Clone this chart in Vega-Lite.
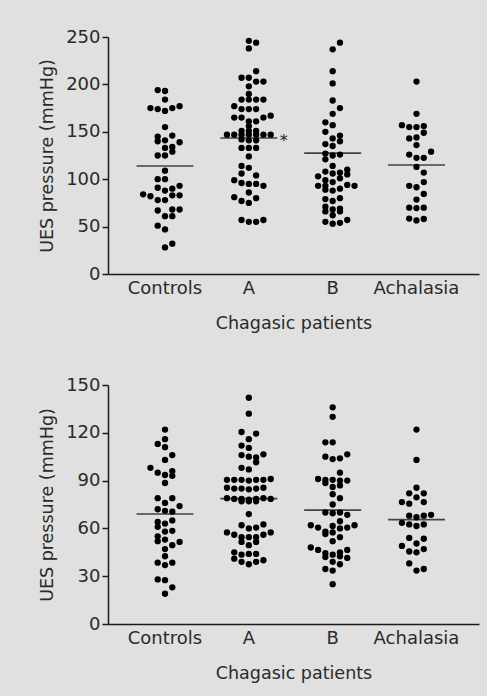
{
  "$schema": "https://vega.github.io/schema/vega-lite/v6.json",
  "background": "#e0e0e0",
  "padding": {"left": 38, "top": 28, "right": 8, "bottom": 19},
  "spacing": 44,
  "datasets": {
    "pts": [
      {"panel":"top","group":"Controls","value":194,"col":-1},{"panel":"top","group":"Controls","value":193,"col":0},{"panel":"top","group":"Controls","value":184,"col":0},{"panel":"top","group":"Controls","value":175,"col":-2},{"panel":"top","group":"Controls","value":174,"col":-1},{"panel":"top","group":"Controls","value":172,"col":0},{"panel":"top","group":"Controls","value":175,"col":1},{"panel":"top","group":"Controls","value":177,"col":2},{"panel":"top","group":"Controls","value":155,"col":0},{"panel":"top","group":"Controls","value":145,"col":-1},{"panel":"top","group":"Controls","value":146,"col":1},{"panel":"top","group":"Controls","value":140,"col":-1},{"panel":"top","group":"Controls","value":141,"col":0},{"panel":"top","group":"Controls","value":139,"col":2},{"panel":"top","group":"Controls","value":133,"col":0},{"panel":"top","group":"Controls","value":134,"col":1},{"panel":"top","group":"Controls","value":129,"col":1},{"panel":"top","group":"Controls","value":125,"col":-1},{"panel":"top","group":"Controls","value":125,"col":0},{"panel":"top","group":"Controls","value":109,"col":0},{"panel":"top","group":"Controls","value":100,"col":-1},{"panel":"top","group":"Controls","value":100,"col":0},{"panel":"top","group":"Controls","value":93,"col":2},{"panel":"top","group":"Controls","value":91,"col":-1},{"panel":"top","group":"Controls","value":90,"col":1},{"panel":"top","group":"Controls","value":88,"col":0},{"panel":"top","group":"Controls","value":84,"col":-3},{"panel":"top","group":"Controls","value":82,"col":-2},{"panel":"top","group":"Controls","value":83,"col":1},{"panel":"top","group":"Controls","value":83,"col":2},{"panel":"top","group":"Controls","value":78,"col":-1},{"panel":"top","group":"Controls","value":78,"col":0},{"panel":"top","group":"Controls","value":67,"col":-1},{"panel":"top","group":"Controls","value":68,"col":1},{"panel":"top","group":"Controls","value":68,"col":2},{"panel":"top","group":"Controls","value":61,"col":0},{"panel":"top","group":"Controls","value":61,"col":1},{"panel":"top","group":"Controls","value":51,"col":-1},{"panel":"top","group":"Controls","value":47,"col":0},{"panel":"top","group":"Controls","value":32,"col":1},{"panel":"top","group":"Controls","value":28,"col":0},
      {"panel":"top","group":"A","value":246,"col":0},{"panel":"top","group":"A","value":244,"col":1},{"panel":"top","group":"A","value":238,"col":0},{"panel":"top","group":"A","value":214,"col":1},{"panel":"top","group":"A","value":207,"col":-1},{"panel":"top","group":"A","value":207,"col":0},{"panel":"top","group":"A","value":203,"col":1},{"panel":"top","group":"A","value":203,"col":2},{"panel":"top","group":"A","value":198,"col":0},{"panel":"top","group":"A","value":190,"col":0},{"panel":"top","group":"A","value":184,"col":-1},{"panel":"top","group":"A","value":184,"col":0},{"panel":"top","group":"A","value":184,"col":1},{"panel":"top","group":"A","value":184,"col":2},{"panel":"top","group":"A","value":177,"col":-2},{"panel":"top","group":"A","value":174,"col":-1},{"panel":"top","group":"A","value":174,"col":0},{"panel":"top","group":"A","value":174,"col":1},{"panel":"top","group":"A","value":167,"col":3},{"panel":"top","group":"A","value":165,"col":-2},{"panel":"top","group":"A","value":165,"col":-1},{"panel":"top","group":"A","value":165,"col":2},{"panel":"top","group":"A","value":161,"col":0},{"panel":"top","group":"A","value":161,"col":1},{"panel":"top","group":"A","value":156,"col":0},{"panel":"top","group":"A","value":151,"col":-1},{"panel":"top","group":"A","value":151,"col":0},{"panel":"top","group":"A","value":151,"col":1},{"panel":"top","group":"A","value":147,"col":-3},{"panel":"top","group":"A","value":147,"col":-2},{"panel":"top","group":"A","value":147,"col":-1},{"panel":"top","group":"A","value":147,"col":0},{"panel":"top","group":"A","value":147,"col":1},{"panel":"top","group":"A","value":147,"col":2},{"panel":"top","group":"A","value":147,"col":3},{"panel":"top","group":"A","value":142,"col":-1},{"panel":"top","group":"A","value":141,"col":0},{"panel":"top","group":"A","value":141,"col":1},{"panel":"top","group":"A","value":133,"col":-1},{"panel":"top","group":"A","value":133,"col":0},{"panel":"top","group":"A","value":133,"col":1},{"panel":"top","group":"A","value":124,"col":0},{"panel":"top","group":"A","value":114,"col":-1},{"panel":"top","group":"A","value":112,"col":0},{"panel":"top","group":"A","value":106,"col":-1},{"panel":"top","group":"A","value":104,"col":1},{"panel":"top","group":"A","value":99,"col":-2},{"panel":"top","group":"A","value":96,"col":-1},{"panel":"top","group":"A","value":95,"col":0},{"panel":"top","group":"A","value":95,"col":1},{"panel":"top","group":"A","value":93,"col":2},{"panel":"top","group":"A","value":86,"col":0},{"panel":"top","group":"A","value":81,"col":-2},{"panel":"top","group":"A","value":80,"col":1},{"panel":"top","group":"A","value":77,"col":-1},{"panel":"top","group":"A","value":75,"col":0},{"panel":"top","group":"A","value":57,"col":-1},{"panel":"top","group":"A","value":55,"col":0},{"panel":"top","group":"A","value":55,"col":1},{"panel":"top","group":"A","value":57,"col":2},
      {"panel":"top","group":"B","value":244,"col":1},{"panel":"top","group":"B","value":237,"col":0},{"panel":"top","group":"B","value":214,"col":0},{"panel":"top","group":"B","value":201,"col":0},{"panel":"top","group":"B","value":183,"col":0},{"panel":"top","group":"B","value":175,"col":1},{"panel":"top","group":"B","value":169,"col":0},{"panel":"top","group":"B","value":160,"col":-1},{"panel":"top","group":"B","value":157,"col":0},{"panel":"top","group":"B","value":150,"col":-1},{"panel":"top","group":"B","value":146,"col":1},{"panel":"top","group":"B","value":143,"col":0},{"panel":"top","group":"B","value":140,"col":1},{"panel":"top","group":"B","value":137,"col":-1},{"panel":"top","group":"B","value":135,"col":0},{"panel":"top","group":"B","value":127,"col":-1},{"panel":"top","group":"B","value":125,"col":0},{"panel":"top","group":"B","value":126,"col":1},{"panel":"top","group":"B","value":121,"col":-1},{"panel":"top","group":"B","value":114,"col":0},{"panel":"top","group":"B","value":108,"col":-1},{"panel":"top","group":"B","value":106,"col":0},{"panel":"top","group":"B","value":110,"col":2},{"panel":"top","group":"B","value":107,"col":1},{"panel":"top","group":"B","value":105,"col":2},{"panel":"top","group":"B","value":103,"col":-2},{"panel":"top","group":"B","value":99,"col":-1},{"panel":"top","group":"B","value":97,"col":0},{"panel":"top","group":"B","value":101,"col":1},{"panel":"top","group":"B","value":93,"col":-2},{"panel":"top","group":"B","value":93,"col":-1},{"panel":"top","group":"B","value":94,"col":2},{"panel":"top","group":"B","value":93,"col":3},{"panel":"top","group":"B","value":89,"col":-1},{"panel":"top","group":"B","value":88,"col":0},{"panel":"top","group":"B","value":90,"col":1},{"panel":"top","group":"B","value":79,"col":-1},{"panel":"top","group":"B","value":77,"col":0},{"panel":"top","group":"B","value":80,"col":1},{"panel":"top","group":"B","value":71,"col":-1},{"panel":"top","group":"B","value":68,"col":0},{"panel":"top","group":"B","value":69,"col":1},{"panel":"top","group":"B","value":66,"col":-1},{"panel":"top","group":"B","value":66,"col":1},{"panel":"top","group":"B","value":62,"col":0},{"panel":"top","group":"B","value":55,"col":-1},{"panel":"top","group":"B","value":53,"col":0},{"panel":"top","group":"B","value":54,"col":1},{"panel":"top","group":"B","value":57,"col":2},
      {"panel":"top","group":"Achalasia","value":203,"col":0},{"panel":"top","group":"Achalasia","value":169,"col":0},{"panel":"top","group":"Achalasia","value":157,"col":-2},{"panel":"top","group":"Achalasia","value":155,"col":-1},{"panel":"top","group":"Achalasia","value":155,"col":0},{"panel":"top","group":"Achalasia","value":156,"col":1},{"panel":"top","group":"Achalasia","value":143,"col":-1},{"panel":"top","group":"Achalasia","value":144,"col":0},{"panel":"top","group":"Achalasia","value":149,"col":1},{"panel":"top","group":"Achalasia","value":136,"col":0},{"panel":"top","group":"Achalasia","value":129,"col":2},{"panel":"top","group":"Achalasia","value":126,"col":-1},{"panel":"top","group":"Achalasia","value":122.5,"col":0},{"panel":"top","group":"Achalasia","value":122.5,"col":1},{"panel":"top","group":"Achalasia","value":113,"col":0},{"panel":"top","group":"Achalasia","value":107,"col":1},{"panel":"top","group":"Achalasia","value":93,"col":-1},{"panel":"top","group":"Achalasia","value":91.5,"col":0},{"panel":"top","group":"Achalasia","value":97,"col":1},{"panel":"top","group":"Achalasia","value":84.5,"col":1},{"panel":"top","group":"Achalasia","value":78.5,"col":0},{"panel":"top","group":"Achalasia","value":70,"col":-1},{"panel":"top","group":"Achalasia","value":69.5,"col":0},{"panel":"top","group":"Achalasia","value":70,"col":1},{"panel":"top","group":"Achalasia","value":58.5,"col":-1},{"panel":"top","group":"Achalasia","value":56.5,"col":0},{"panel":"top","group":"Achalasia","value":58,"col":1},
      {"panel":"bottom","group":"Controls","value":122,"col":0},{"panel":"bottom","group":"Controls","value":116,"col":0},{"panel":"bottom","group":"Controls","value":113,"col":-1},{"panel":"bottom","group":"Controls","value":111,"col":0},{"panel":"bottom","group":"Controls","value":106,"col":1},{"panel":"bottom","group":"Controls","value":103,"col":0},{"panel":"bottom","group":"Controls","value":98,"col":-2},{"panel":"bottom","group":"Controls","value":96,"col":1},{"panel":"bottom","group":"Controls","value":95,"col":-1},{"panel":"bottom","group":"Controls","value":93.5,"col":0},{"panel":"bottom","group":"Controls","value":93,"col":1},{"panel":"bottom","group":"Controls","value":88.5,"col":0},{"panel":"bottom","group":"Controls","value":79,"col":-1},{"panel":"bottom","group":"Controls","value":76,"col":0},{"panel":"bottom","group":"Controls","value":79,"col":1},{"panel":"bottom","group":"Controls","value":74,"col":2},{"panel":"bottom","group":"Controls","value":72,"col":-1},{"panel":"bottom","group":"Controls","value":71,"col":0},{"panel":"bottom","group":"Controls","value":70.5,"col":1},{"panel":"bottom","group":"Controls","value":64,"col":-1},{"panel":"bottom","group":"Controls","value":63,"col":0},{"panel":"bottom","group":"Controls","value":65,"col":1},{"panel":"bottom","group":"Controls","value":61,"col":-1},{"panel":"bottom","group":"Controls","value":58,"col":0},{"panel":"bottom","group":"Controls","value":58.5,"col":1},{"panel":"bottom","group":"Controls","value":55,"col":-1},{"panel":"bottom","group":"Controls","value":53,"col":0},{"panel":"bottom","group":"Controls","value":52,"col":-1},{"panel":"bottom","group":"Controls","value":51.5,"col":2},{"panel":"bottom","group":"Controls","value":49.5,"col":1},{"panel":"bottom","group":"Controls","value":47,"col":0},{"panel":"bottom","group":"Controls","value":42.5,"col":0},{"panel":"bottom","group":"Controls","value":38.5,"col":-1},{"panel":"bottom","group":"Controls","value":37,"col":0},{"panel":"bottom","group":"Controls","value":38.5,"col":1},{"panel":"bottom","group":"Controls","value":28,"col":-1},{"panel":"bottom","group":"Controls","value":27.5,"col":0},{"panel":"bottom","group":"Controls","value":23,"col":1},{"panel":"bottom","group":"Controls","value":19,"col":0},
      {"panel":"bottom","group":"A","value":142,"col":0},{"panel":"bottom","group":"A","value":132,"col":0},{"panel":"bottom","group":"A","value":120.5,"col":-1},{"panel":"bottom","group":"A","value":119.5,"col":1},{"panel":"bottom","group":"A","value":116,"col":0},{"panel":"bottom","group":"A","value":112,"col":-1},{"panel":"bottom","group":"A","value":110.5,"col":0},{"panel":"bottom","group":"A","value":106,"col":-1},{"panel":"bottom","group":"A","value":106.5,"col":2},{"panel":"bottom","group":"A","value":105,"col":0},{"panel":"bottom","group":"A","value":104.5,"col":1},{"panel":"bottom","group":"A","value":101.5,"col":1},{"panel":"bottom","group":"A","value":98,"col":-1},{"panel":"bottom","group":"A","value":97,"col":0},{"panel":"bottom","group":"A","value":90.5,"col":-3},{"panel":"bottom","group":"A","value":90.5,"col":-2},{"panel":"bottom","group":"A","value":90.5,"col":-1},{"panel":"bottom","group":"A","value":90,"col":0},{"panel":"bottom","group":"A","value":90.5,"col":1},{"panel":"bottom","group":"A","value":90.5,"col":2},{"panel":"bottom","group":"A","value":91,"col":3},{"panel":"bottom","group":"A","value":85.5,"col":-3},{"panel":"bottom","group":"A","value":85,"col":-2},{"panel":"bottom","group":"A","value":85,"col":-1},{"panel":"bottom","group":"A","value":84.5,"col":0},{"panel":"bottom","group":"A","value":85,"col":1},{"panel":"bottom","group":"A","value":85.5,"col":2},{"panel":"bottom","group":"A","value":79,"col":-3},{"panel":"bottom","group":"A","value":78.5,"col":-2},{"panel":"bottom","group":"A","value":78.5,"col":-1},{"panel":"bottom","group":"A","value":78,"col":0},{"panel":"bottom","group":"A","value":78.5,"col":1},{"panel":"bottom","group":"A","value":79,"col":2},{"panel":"bottom","group":"A","value":78.5,"col":3},{"panel":"bottom","group":"A","value":77,"col":-1},{"panel":"bottom","group":"A","value":77,"col":0},{"panel":"bottom","group":"A","value":77,"col":1},{"panel":"bottom","group":"A","value":69,"col":0},{"panel":"bottom","group":"A","value":62,"col":-1},{"panel":"bottom","group":"A","value":60,"col":0},{"panel":"bottom","group":"A","value":60.5,"col":1},{"panel":"bottom","group":"A","value":62.5,"col":2},{"panel":"bottom","group":"A","value":57.5,"col":-3},{"panel":"bottom","group":"A","value":56,"col":-2},{"panel":"bottom","group":"A","value":54.5,"col":-1},{"panel":"bottom","group":"A","value":54.5,"col":0},{"panel":"bottom","group":"A","value":54.5,"col":1},{"panel":"bottom","group":"A","value":56,"col":2},{"panel":"bottom","group":"A","value":57.5,"col":3},{"panel":"bottom","group":"A","value":51.5,"col":-1},{"panel":"bottom","group":"A","value":49.5,"col":0},{"panel":"bottom","group":"A","value":51.5,"col":1},{"panel":"bottom","group":"A","value":45,"col":-2},{"panel":"bottom","group":"A","value":43.5,"col":-1},{"panel":"bottom","group":"A","value":44,"col":0},{"panel":"bottom","group":"A","value":44,"col":1},{"panel":"bottom","group":"A","value":41,"col":-2},{"panel":"bottom","group":"A","value":39,"col":-1},{"panel":"bottom","group":"A","value":37.5,"col":0},{"panel":"bottom","group":"A","value":39,"col":1},{"panel":"bottom","group":"A","value":40,"col":2},
      {"panel":"bottom","group":"B","value":136,"col":0},{"panel":"bottom","group":"B","value":130,"col":0},{"panel":"bottom","group":"B","value":114,"col":-1},{"panel":"bottom","group":"B","value":114,"col":0},{"panel":"bottom","group":"B","value":105,"col":-1},{"panel":"bottom","group":"B","value":103.5,"col":0},{"panel":"bottom","group":"B","value":104,"col":1},{"panel":"bottom","group":"B","value":106.5,"col":2},{"panel":"bottom","group":"B","value":95,"col":1},{"panel":"bottom","group":"B","value":91,"col":-2},{"panel":"bottom","group":"B","value":90.5,"col":-1},{"panel":"bottom","group":"B","value":90.5,"col":0},{"panel":"bottom","group":"B","value":90,"col":1},{"panel":"bottom","group":"B","value":90,"col":2},{"panel":"bottom","group":"B","value":88.5,"col":-1},{"panel":"bottom","group":"B","value":87,"col":1},{"panel":"bottom","group":"B","value":86,"col":0},{"panel":"bottom","group":"B","value":81.5,"col":0},{"panel":"bottom","group":"B","value":79,"col":1},{"panel":"bottom","group":"B","value":75,"col":0},{"panel":"bottom","group":"B","value":70,"col":-1},{"panel":"bottom","group":"B","value":69.5,"col":0},{"panel":"bottom","group":"B","value":70,"col":1},{"panel":"bottom","group":"B","value":68.5,"col":2},{"panel":"bottom","group":"B","value":64.5,"col":1},{"panel":"bottom","group":"B","value":62,"col":-3},{"panel":"bottom","group":"B","value":60.5,"col":-2},{"panel":"bottom","group":"B","value":61.5,"col":0},{"panel":"bottom","group":"B","value":60,"col":1},{"panel":"bottom","group":"B","value":60.5,"col":2},{"panel":"bottom","group":"B","value":62,"col":3},{"panel":"bottom","group":"B","value":58,"col":-1},{"panel":"bottom","group":"B","value":56.5,"col":-1},{"panel":"bottom","group":"B","value":57.5,"col":0},{"panel":"bottom","group":"B","value":54.5,"col":1},{"panel":"bottom","group":"B","value":52,"col":0},{"panel":"bottom","group":"B","value":48,"col":-3},{"panel":"bottom","group":"B","value":46.5,"col":-2},{"panel":"bottom","group":"B","value":44.5,"col":-1},{"panel":"bottom","group":"B","value":42,"col":-1},{"panel":"bottom","group":"B","value":43.5,"col":0},{"panel":"bottom","group":"B","value":46.5,"col":2},{"panel":"bottom","group":"B","value":41.5,"col":2},{"panel":"bottom","group":"B","value":45,"col":1},{"panel":"bottom","group":"B","value":42.5,"col":1},{"panel":"bottom","group":"B","value":39,"col":0},{"panel":"bottom","group":"B","value":37.5,"col":1},{"panel":"bottom","group":"B","value":34.5,"col":-1},{"panel":"bottom","group":"B","value":33.5,"col":0},{"panel":"bottom","group":"B","value":25,"col":0},
      {"panel":"bottom","group":"Achalasia","value":122,"col":0},{"panel":"bottom","group":"Achalasia","value":103,"col":0},{"panel":"bottom","group":"Achalasia","value":85.5,"col":0},{"panel":"bottom","group":"Achalasia","value":82,"col":-1},{"panel":"bottom","group":"Achalasia","value":82,"col":1},{"panel":"bottom","group":"Achalasia","value":76.5,"col":-2},{"panel":"bottom","group":"Achalasia","value":75.5,"col":-1},{"panel":"bottom","group":"Achalasia","value":79.5,"col":0},{"panel":"bottom","group":"Achalasia","value":76.5,"col":1},{"panel":"bottom","group":"Achalasia","value":68,"col":-1},{"panel":"bottom","group":"Achalasia","value":67,"col":0},{"panel":"bottom","group":"Achalasia","value":68,"col":1},{"panel":"bottom","group":"Achalasia","value":68.5,"col":2},{"panel":"bottom","group":"Achalasia","value":63.5,"col":-2},{"panel":"bottom","group":"Achalasia","value":62.5,"col":-1},{"panel":"bottom","group":"Achalasia","value":61.5,"col":0},{"panel":"bottom","group":"Achalasia","value":62.5,"col":1},{"panel":"bottom","group":"Achalasia","value":54,"col":-1},{"panel":"bottom","group":"Achalasia","value":53.5,"col":1},{"panel":"bottom","group":"Achalasia","value":50.5,"col":0},{"panel":"bottom","group":"Achalasia","value":49,"col":-2},{"panel":"bottom","group":"Achalasia","value":45.5,"col":-1},{"panel":"bottom","group":"Achalasia","value":45,"col":0},{"panel":"bottom","group":"Achalasia","value":47,"col":1},{"panel":"bottom","group":"Achalasia","value":38,"col":-1},{"panel":"bottom","group":"Achalasia","value":33.5,"col":0},{"panel":"bottom","group":"Achalasia","value":34.5,"col":1}
    ],
    "means": [
      {"panel":"top","group":"Controls","value":114},{"panel":"top","group":"A","value":143.5},{"panel":"top","group":"B","value":127.5},{"panel":"top","group":"Achalasia","value":115},
      {"panel":"bottom","group":"Controls","value":69},{"panel":"bottom","group":"A","value":78.7},{"panel":"bottom","group":"B","value":71.5},{"panel":"bottom","group":"Achalasia","value":65.5}
    ],
    "notes": [
      {"panel":"top","group":"A","value":143.5,"col":4.8,"label":"*"}
    ]
  },
  "config": {
    "view": {"stroke": null},
    "font": "DejaVu Sans",
    "axis": {
      "labelFont": "DejaVu Sans", "titleFont": "DejaVu Sans",
      "labelFontSize": 18, "titleFontSize": 17.5, "titleFontWeight": "normal",
      "labelColor": "#2a2a2a", "titleColor": "#2a2a2a",
      "domainColor": "#1a1a1a", "domainWidth": 1.5,
      "tickColor": "#1a1a1a", "tickWidth": 1.5, "tickSize": 6,
      "grid": false
    },
    "axisY": {"labelPadding": 2, "titlePadding": 9},
    "axisX": {"labelPadding": 5, "titlePadding": 17, "ticks": false, "labelAngle": 0}
  },
  "vconcat": [
    {
      "width": 371, "height": 237,
      "layer": [
        {
          "data": {"name": "pts"},
          "transform": [{"filter": "datum.panel === 'top'"}],
          "mark": {"type": "circle", "size": 40, "color": "black", "opacity": 1},
          "encoding": {
            "x": {"field": "group", "type": "nominal", "sort": ["Controls","A","B","Achalasia"], "scale": {"paddingInner": 0, "paddingOuter": 0.2128, "align": 0.423}, "axis": {"title": "Chagasic patients"}},
            "xOffset": {"field": "col", "type": "quantitative", "scale": {"domain": [-5.75, 5.75], "nice": false, "zero": false}},
            "y": {"field": "value", "type": "quantitative", "scale": {"domain": [0, 250], "nice": false}, "axis": {"values": [0,50,100,150,200,250], "title": "UES pressure (mmHg)"}}
          }
        },
        {
          "data": {"name": "means"},
          "transform": [{"filter": "datum.panel === 'top'"}],
          "mark": {"type": "tick", "orient": "horizontal", "size": 57, "thickness": 1.6, "color": "black"},
          "encoding": {
            "x": {"field": "group", "type": "nominal", "sort": ["Controls","A","B","Achalasia"]},
            "y": {"field": "value", "type": "quantitative"}
          }
        },
        {
          "data": {"name": "notes"},
          "transform": [{"filter": "datum.panel === 'top'"}],
          "mark": {"type": "text", "fontSize": 16, "fill": "#222222", "baseline": "middle", "align": "center", "dy": 3},
          "encoding": {
            "x": {"field": "group", "type": "nominal", "sort": ["Controls","A","B","Achalasia"]},
            "xOffset": {"field": "col", "type": "quantitative"},
            "y": {"field": "value", "type": "quantitative"},
            "text": {"field": "label"}
          }
        }
      ]
    },
    {
      "width": 371, "height": 239,
      "layer": [
        {
          "data": {"name": "pts"},
          "transform": [{"filter": "datum.panel === 'bottom'"}],
          "mark": {"type": "circle", "size": 40, "color": "black", "opacity": 1},
          "encoding": {
            "x": {"field": "group", "type": "nominal", "sort": ["Controls","A","B","Achalasia"], "scale": {"paddingInner": 0, "paddingOuter": 0.2128, "align": 0.423}, "axis": {"title": "Chagasic patients"}},
            "xOffset": {"field": "col", "type": "quantitative", "scale": {"domain": [-5.75, 5.75], "nice": false, "zero": false}},
            "y": {"field": "value", "type": "quantitative", "scale": {"domain": [0, 150], "nice": false}, "axis": {"values": [0,30,60,90,120,150], "title": "UES pressure (mmHg)"}}
          }
        },
        {
          "data": {"name": "means"},
          "transform": [{"filter": "datum.panel === 'bottom'"}],
          "mark": {"type": "tick", "orient": "horizontal", "size": 57, "thickness": 1.6, "color": "black"},
          "encoding": {
            "x": {"field": "group", "type": "nominal", "sort": ["Controls","A","B","Achalasia"]},
            "y": {"field": "value", "type": "quantitative"}
          }
        }
      ]
    }
  ]
}
